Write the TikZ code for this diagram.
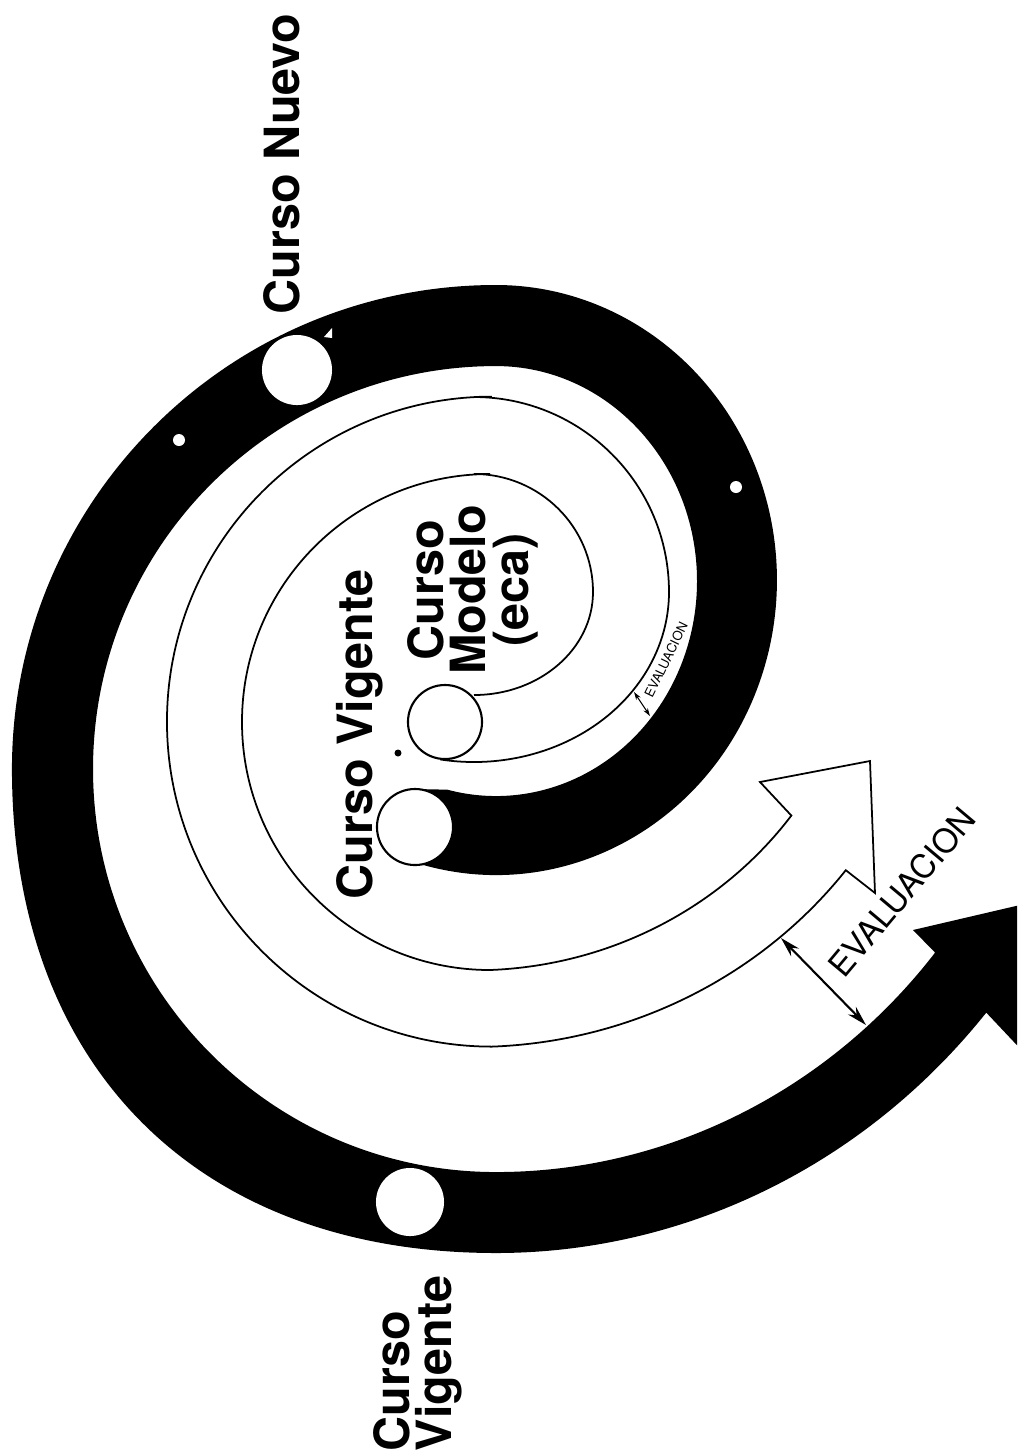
\documentclass[tikz,border=0pt]{standalone}
\usepackage{fontspec}
\setsansfont{TeX Gyre Heros}
\usetikzlibrary{arrows.meta,positioning}

\begin{document}
\begin{tikzpicture}[x=0.01cm,y=-0.01cm,
		band/.style={fill=black},
		track/.style={draw=black, line width=0.5pt},
		ring node/.style={
			circle, fill=white, inner sep=0pt},
		big label/.style={
			font=\sffamily\bfseries\fontsize{13.8}{12}\selectfont,
			inner sep=0pt, rotate=90},
		small label/.style={inner sep=0pt},
		dim arrow/.style={<->, >={Stealth[length=2mm,width=1.1mm]}, line width=0.6pt}
		]
		\useasboundingbox (0,0) rectangle (1017,1456);
		\clip (0,0) rectangle (1017,1456);
		
		% black spiral, from the inner circle out to the big arrow head
		\fill[band] (413.8,862.1)
			arc[start angle=107, end angle=-90, x radius=281, y radius=295]
			arc[start angle=-90, end angle=-180, radius=484]
			.. controls (12,1067) and (198,1253) .. (496,1253)
			arc[start angle=90, end angle=40, x radius=640, y radius=673]
			-- (1030,1059) -- (1063,895) -- (913,930) -- (935.1,952.6)
			arc[start angle=39, end angle=90, x radius=565, y radius=592]
			arc[start angle=90, end angle=270, radius=403]
			arc[start angle=-90, end angle=104, x radius=201, y radius=215]
			-- (415,789) -- cycle;
		
		% white spiral arrow, from the model circle out to its head
		\draw[track] (474,695)
			arc[start angle=90, end angle=0, x radius=119, y radius=103]
			arc[start angle=0, end angle=-90, x radius=119, y radius=118]
			-- (490,474)
			arc[start angle=-90, end angle=-270, radius=248]
			arc[start angle=87.7, end angle=36.2, x radius=393, y radius=378]
			-- (760,782) -- (870,761) -- (875,893) -- (845.8,870.2)
			arc[start angle=37.7, end angle=87.8, x radius=470, y radius=455]
			arc[start angle=90, end angle=270, radius=325]
			-- (474,397)
			arc[start angle=-90, end angle=0, radius=195]
			arc[start angle=0, end angle=100, x radius=195, y radius=170];
		
		% specks in the band
		\fill[white] (179,440) circle (0.6mm);
		\fill[white] (736,487) circle (0.6mm);
		\fill[white] (324,337) -- (332,328) -- (332,338) -- cycle;
		\fill (398,753) circle (0.35mm);
		
		\node[ring node, minimum size=7mm] (nuevo) at (297,370) {};
		\node[ring node, minimum size=6.8mm] (vigente) at (410,1202) {};
		\node[ring node, draw, line width=0.6pt, minimum size=7.6mm] (vigente in) at (415,827) {};
		\node[ring node, draw, line width=0.6pt, minimum size=7.4mm] (modelo) at (445,722) {};
		
		\node[big label, anchor=base west] (nuevo label) at (300,315) {Curso Nuevo};
		\node[big label, anchor=base west] (vigente in label) at (372,900) {Curso Vigente};
		\node[big label, anchor=north, align=center] (modelo label) at (407,590)
		{Curso\\Modelo\\(eca)};
		\node[big label, anchor=north west, align=left] (vigente label) at (373,1452)
		{Curso\\Vigente};
		
		\node[small label, font=\sffamily\fontsize{9.4}{11}\selectfont, rotate=50] (eval)
		at (902,892) {EVALUACION};
		\node[small label, font=\sffamily\fontsize{3.7}{4}\selectfont, rotate=64] (eval small)
		at (666,660) {EVALUACION};
		
		\coordinate (a1) at (781,938);
		\coordinate (a2) at (866,1025);
		\draw[dim arrow] (a1) -- (a2);
		\coordinate (b1) at (634,692);
		\coordinate (b2) at (650,716);
		\draw[dim arrow, >={Stealth[length=0.8mm,width=0.5mm]}, line width=0.3pt] (b1) -- (b2);
\end{tikzpicture}
\end{document}
